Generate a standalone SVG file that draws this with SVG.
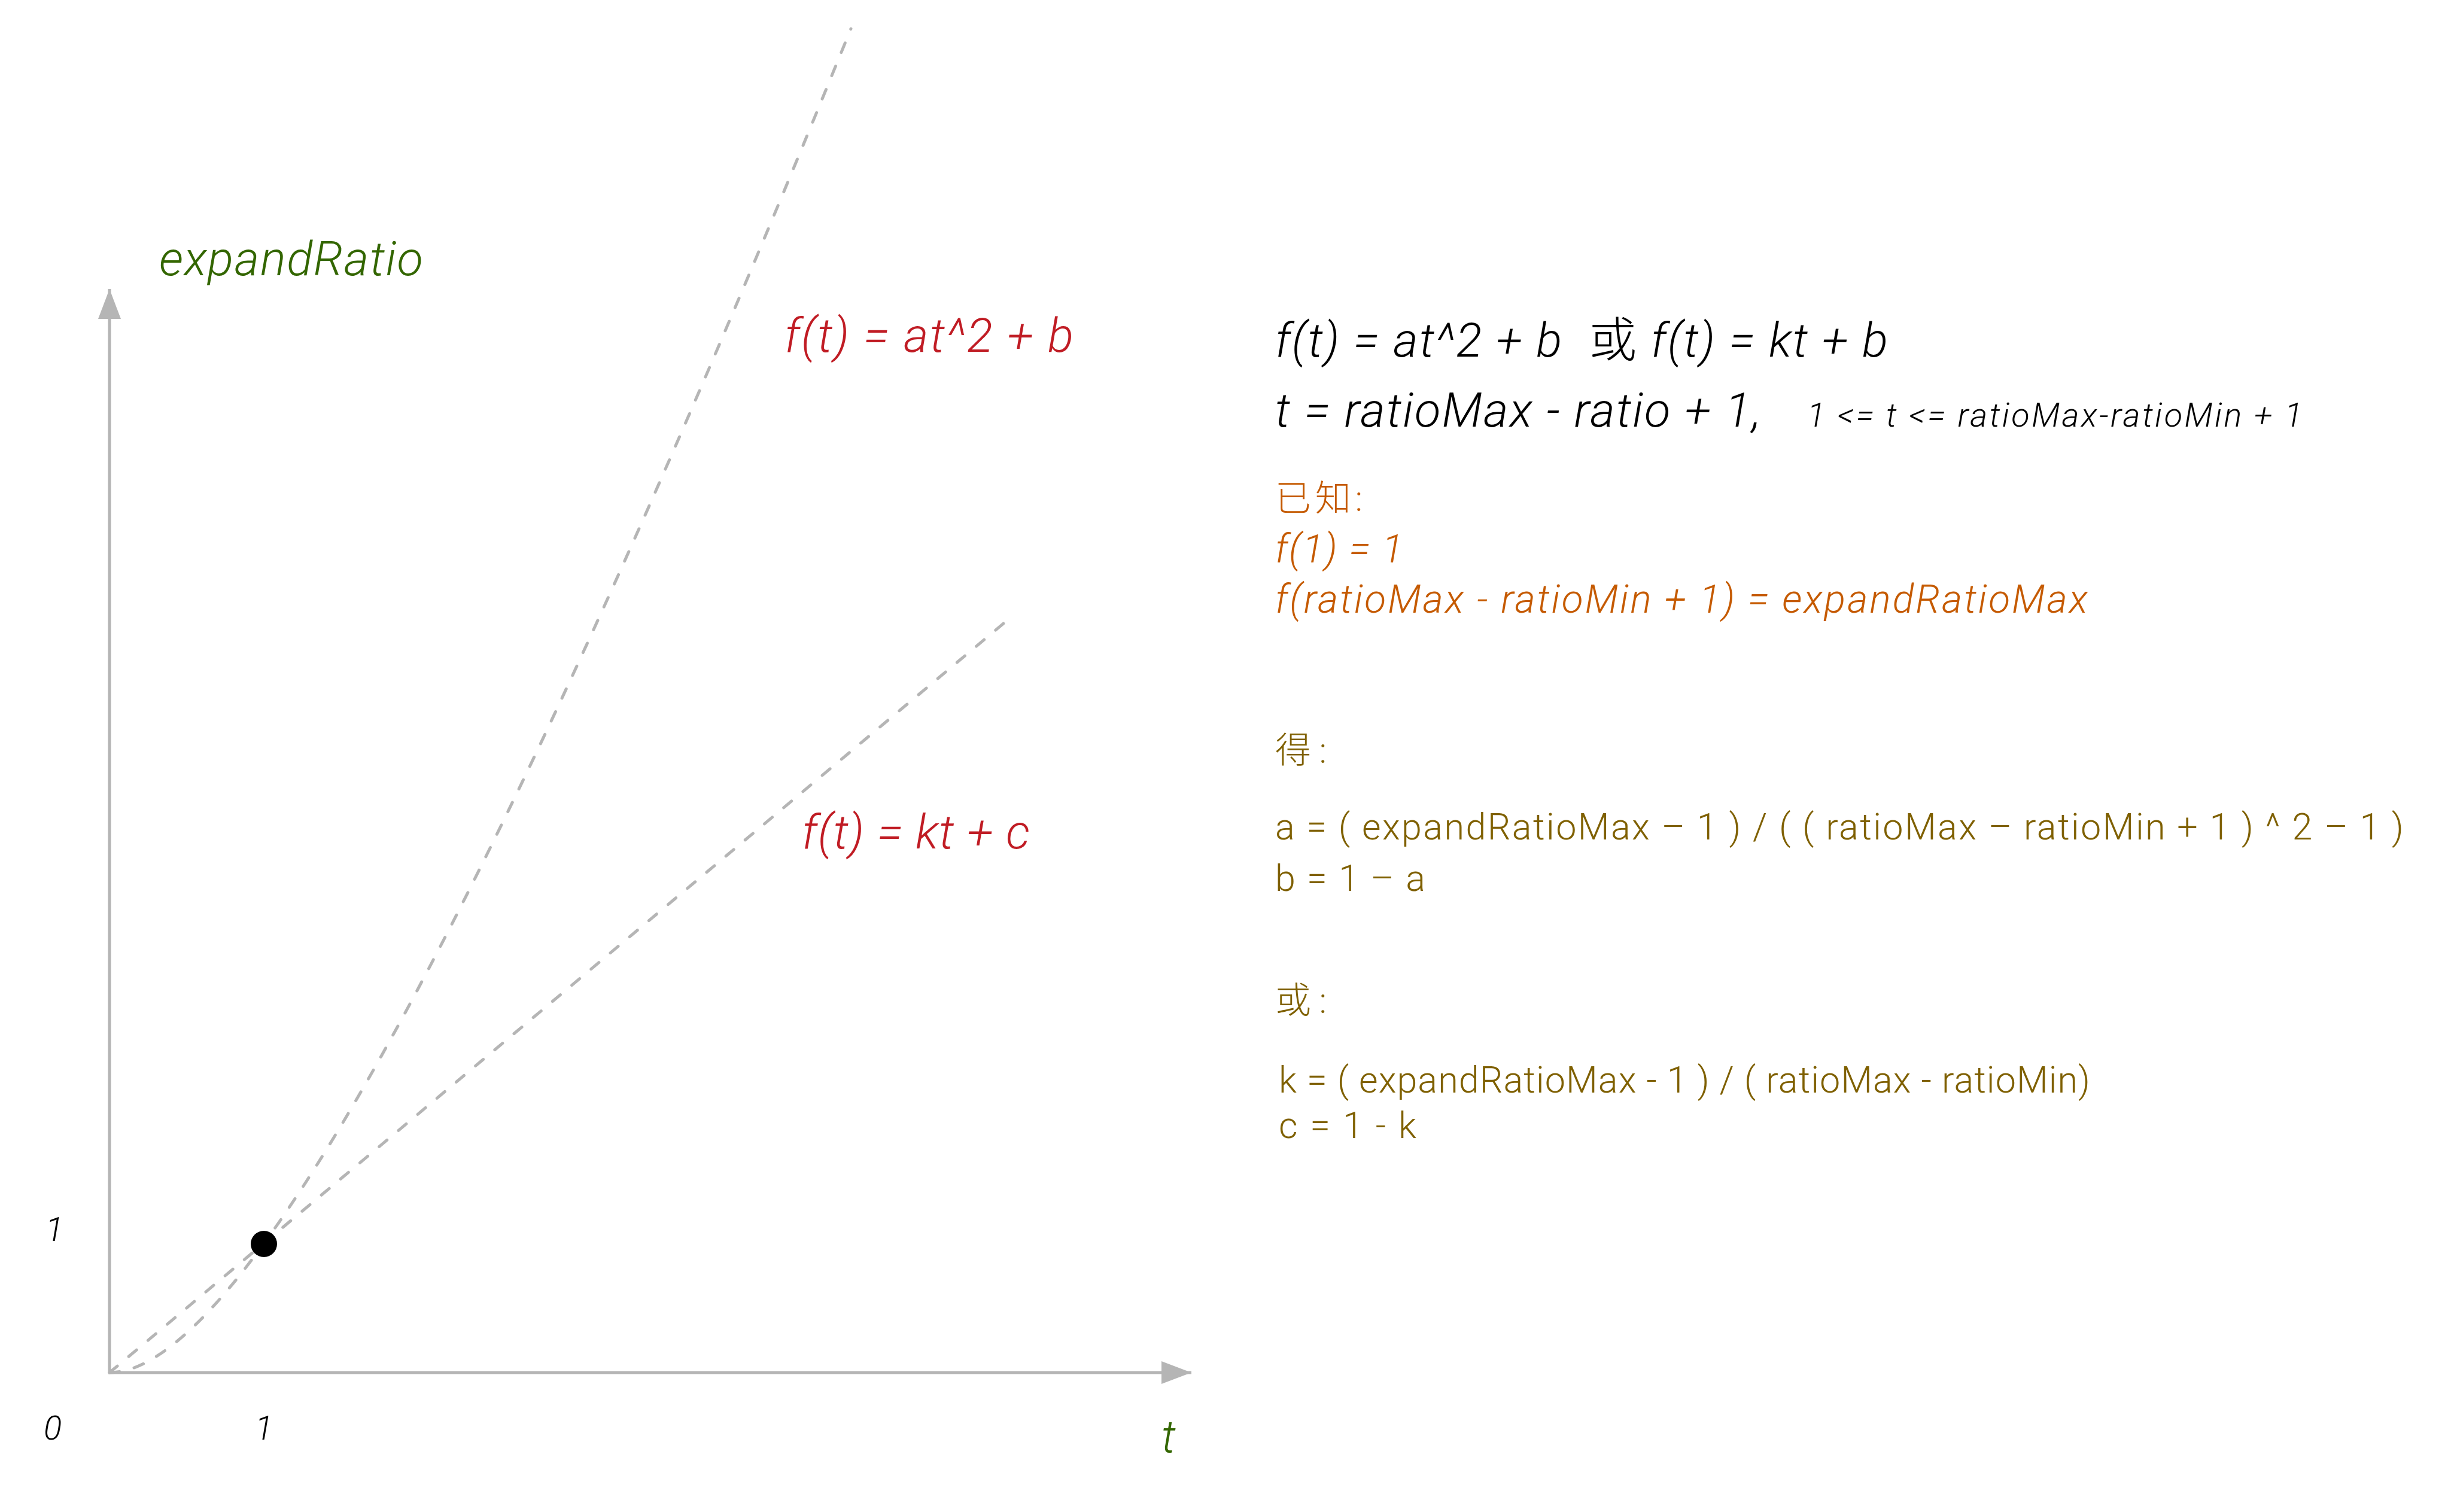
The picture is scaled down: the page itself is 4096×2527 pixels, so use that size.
<svg xmlns="http://www.w3.org/2000/svg" width="4096" height="2527" viewBox="0 0 4096 2527">
<style>
text{font-family:"Helvetica Neue",Roboto,"Noto Sans CJK SC",sans-serif;font-weight:300;white-space:pre}
.it{font-style:italic}
.green{fill:#336600}
.red{fill:#C01C24}
.black{fill:#000}
.orange{fill:#C55A00}
.olive{fill:#7F6000}
.axis{stroke:#B5B5B5;stroke-width:5;fill:none}
.dash{stroke:#B5B5B5;stroke-width:5;fill:none;stroke-dasharray:17 25;stroke-linecap:round}
</style>
<defs>
<marker id="ah" markerUnits="userSpaceOnUse" markerWidth="52" markerHeight="38" refX="50" refY="19" orient="auto">
<path d="M0,0 L50,19 L0,38 Z" fill="#B5B5B5"/>
</marker>
</defs>
<rect width="4096" height="2527" fill="#fff"/>
<g id="connectors">
<line class="axis" x1="183" y1="2294" x2="183" y2="483" marker-end="url(#ah)"/>
<line class="axis" x1="181" y1="2294" x2="1991" y2="2294" marker-end="url(#ah)"/>
<line class="dash" x1="183" y1="2294" x2="1677" y2="1042"/>
<path class="dash" d="M183,2294 Q508,2294 1422,48"/>
</g>
<g id="point">
<circle cx="441" cy="2079" r="22" fill="#000"/>
</g>
<g id="axis-labels">
<text class="it green" x="266" y="460" font-size="80" textLength="441">expandRatio</text>
<text class="it green" x="1941" y="2427" font-size="76">t</text>
<text class="it black" x="76" y="2074" font-size="56">1</text>
<text class="it black" x="73" y="2406" font-size="56">0</text>
<text class="it black" x="426" y="2406" font-size="56">1</text>
</g>
<g id="curve-labels">
<text class="it red" x="1311" y="588" font-size="80" textLength="483">f(t) = at^2 + b</text>
<text class="it red" x="1340" y="1418" font-size="80" textLength="381">f(t) = kt + c</text>
</g>
<g id="formulas">
<text class="black" x="2131" y="596" font-size="80" textLength="1024"><tspan class="it">f(t) = at^2 + b  </tspan>或<tspan class="it"> f(t) = kt + b</tspan></text>
<text class="it black" x="2131" y="713" font-size="80" textLength="812">t = ratioMax - ratio + 1,</text>
<text class="it black" x="3020" y="713" font-size="56" textLength="828">1 &lt;= t &lt;= ratioMax-ratioMin + 1</text>
</g>
<g id="known">
<text class="orange" x="2131" y="854" font-size="60" textLength="146">已知:</text>
<text class="it orange" x="2131" y="940" font-size="66" textLength="214">f(1) = 1</text>
<text class="it orange" x="2131" y="1024" font-size="66" textLength="1358">f(ratioMax - ratioMin + 1) = expandRatioMax</text>
</g>
<g id="result-quadratic">
<text class="olive" x="2131" y="1275" font-size="60" textLength="86">得:</text>
<text class="olive" x="2131" y="1403" font-size="61" textLength="1886">a = ( expandRatioMax – 1 ) / ( ( ratioMax – ratioMin + 1 ) ^ 2 – 1 )</text>
<text class="olive" x="2131" y="1489" font-size="61" textLength="251">b = 1 – a</text>
</g>
<g id="result-linear">
<text class="olive" x="2131" y="1693" font-size="60" textLength="86">或:</text>
<text class="olive" x="2137" y="1826" font-size="61" textLength="1356">k = ( expandRatioMax - 1 ) / ( ratioMax - ratioMin)</text>
<text class="olive" x="2137" y="1902" font-size="61" textLength="230">c = 1 - k</text>
</g>
</svg>
